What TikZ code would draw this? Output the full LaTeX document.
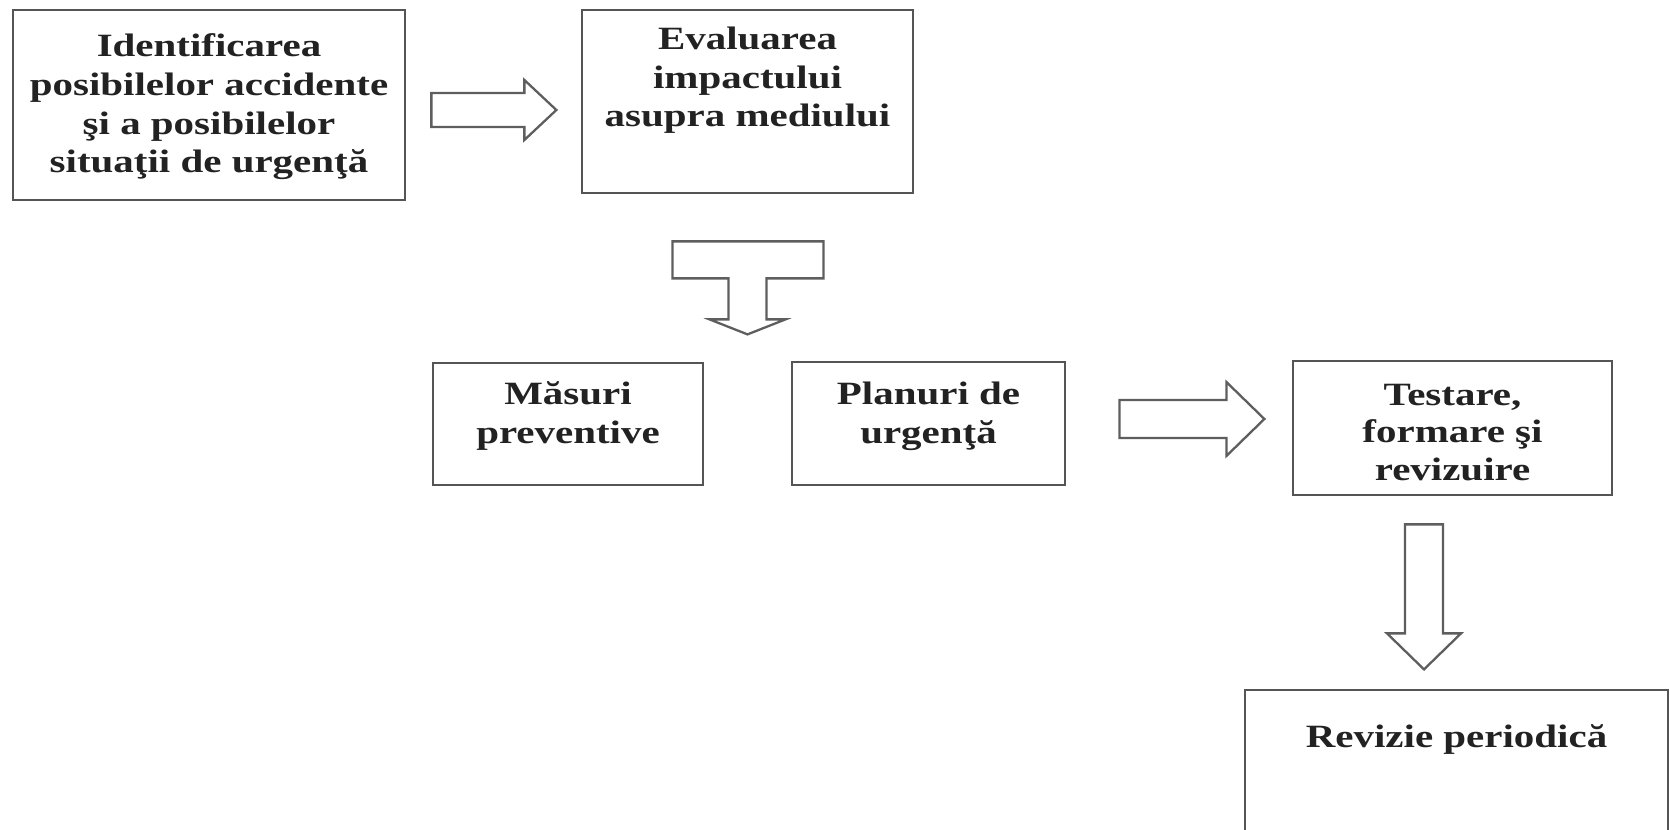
\documentclass[tikz,border=0pt]{standalone}
\usepackage{fontspec}
\setmainfont{Liberation Serif}[FakeStretch=1.26]
\usepackage{tikz}
\usetikzlibrary{positioning,calc}
\definecolor{Frame}{HTML}{555555}
\definecolor{ArrowLine}{HTML}{5E5E5E}
\definecolor{Ink}{HTML}{222222}

\begin{document}
\begin{tikzpicture}[
  x=0.02cm,y=-0.02cm,
  box/.style={draw=Frame,line width=1.6pt,fill=white,inner sep=0pt},
  txt/.style={align=center,inner sep=0pt,text=Ink,font=\bfseries\fontsize{18.5}{22}\selectfont},
  fat/.style={draw=ArrowLine,line width=1.3pt,fill=white,line join=miter}
]
\clip (0,0) rectangle (1670,830);
\fill[white] (0,0) rectangle (1670,830);

% boxes
\node[box,minimum width=7.84cm,minimum height=3.8cm] (ident) at (209,105) {};
\node[box,minimum width=6.62cm,minimum height=3.66cm] (eval) at (747.5,101.5) {};
\node[box,minimum width=5.4cm,minimum height=2.44cm] (masuri) at (568,424) {};
\node[box,minimum width=5.46cm,minimum height=2.46cm] (planuri) at (928.5,423.5) {};
\node[box,minimum width=6.38cm,minimum height=2.68cm] (testare) at (1452.5,428) {};
\node[box,minimum width=8.46cm,minimum height=4cm] (revizie) at (1456.5,790) {};

% texts
\node[txt,below=0.5cm of ident.north] (identtxt) {Identificarea\\posibilelor accidente\\şi a posibilelor\\situaţii de urgenţă};
\node[txt,below=0.36cm of eval.north] (evaltxt) {Evaluarea\\impactului\\asupra mediului};
\node[txt,below=0.4cm of masuri.north] (masuritxt) {Măsuri\\preventive};
\node[txt,below=0.42cm of planuri.north] (planuritxt) {Planuri de\\urgenţă};
\node[txt,below=0.48cm of testare.north,font=\bfseries\fontsize{18.5}{21.3}\selectfont] (testaretxt) {Testare,\\formare şi\\revizuire};
\node[txt,below=0.72cm of revizie.north] (revizietxt) {Revizie periodică};

% block arrows
\draw[fat] ($(ident.east)+(25,-12)$) -- ++(93,0) -- ++(0,-13) -- ++(32,30)
  -- ++(-32,30) -- ++(0,-13) -- ++(-93,0) -- cycle;
\draw[fat] ($(eval.south)+(-75,47)$) -- ++(151,0) -- ++(0,37) -- ++(-57,0)
  -- ++(0,41) -- ++(19,0) -- ++(-38,15) -- ++(-38,-15) -- ++(19,0)
  -- ++(0,-41) -- ++(-56,0) -- cycle;
\draw[fat] ($(planuri.east)+(53,-23.5)$) -- ++(107,0) -- ++(0,-18) -- ++(38,37)
  -- ++(-38,37) -- ++(0,-18) -- ++(-107,0) -- cycle;
\draw[fat] ($(testare.south)+(-47.5,28)$) -- ++(38,0) -- ++(0,109) -- ++(18,0)
  -- ++(-37,36) -- ++(-37,-36) -- ++(18,0) -- cycle;
\end{tikzpicture}
\end{document}
